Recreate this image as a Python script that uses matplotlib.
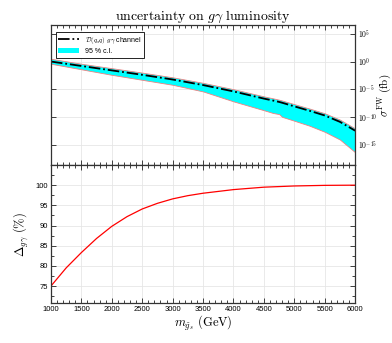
import numpy as np
import matplotlib
matplotlib.use("Agg")
import matplotlib.pyplot as plt
from matplotlib.ticker import FixedLocator, MultipleLocator, FuncFormatter
from matplotlib.patches import Patch
from matplotlib.lines import Line2D

plt.rcParams['font.family'] = ['Liberation Sans', 'DejaVu Sans']
plt.rcParams['mathtext.fontset'] = 'cm'

# top panel: log10 of sigma (fb)
mass_top = [1000, 1500, 2000, 2500, 3000, 3500, 4000, 4500, 4650, 4750, 4800, 5000, 5250, 5500, 5750, 6000]
central_log = [0.0, -0.8, -1.6, -2.4, -3.25, -4.25, -5.4, -6.7, -7.05, -7.3, -7.45, -8.1, -8.9, -9.75, -10.9, -12.5]
upper_log = [0.5, -0.4, -1.2, -2.0, -2.85, -3.85, -5.0, -6.3, -6.65, -6.9, -7.05, -7.7, -8.5, -9.35, -10.5, -12.1]
lower_log = [-0.4, -1.4, -2.4, -3.3, -4.2, -5.4, -7.2, -8.8, -9.3, -9.5, -10.0, -10.7, -11.6, -12.7, -14.1, -16.4]

# bottom panel: Delta_{g gamma} in %
mass_bot = [1000, 1250, 1500, 1750, 2000, 2250, 2500, 2750, 3000, 3250, 3500, 4000, 4500, 5000, 5500, 6000]
delta = [75.0, 79.5, 83.3, 86.8, 89.8, 92.2, 94.1, 95.5, 96.6, 97.4, 98.0, 98.9, 99.5, 99.8, 99.95, 100.0]

yticks_top = [1e5, 1e0, 1e-5, 1e-10, 1e-15]

fig = plt.figure(figsize=(3.92, 3.43), dpi=100)
ax1 = fig.add_axes([0.130, 0.519, 0.776, 0.408])
ax2 = fig.add_axes([0.130, 0.1166, 0.776, 0.4024])

m = np.array(mass_top)
ax1.fill_between(m, 10.0**np.array(lower_log), 10.0**np.array(upper_log),
                 facecolor='#00ffff', edgecolor='#f08080', linewidth=0.6)
ax1.plot(m, 10.0**np.array(central_log), color='black', linestyle='-.', linewidth=1.3)
ax1.set_yscale('log')
ax1.set_ylim(10**-18.7, 10**6.6)
ax1.set_xlim(1000, 6000)
ax1.yaxis.set_major_locator(FixedLocator(yticks_top))
ax1.yaxis.set_minor_locator(FixedLocator([]))
ax1.yaxis.set_major_formatter(FuncFormatter(
    lambda v, p: r"$\mathsf{10}^{\mathsf{%d}}$" % int(round(np.log10(v)))))
ax1.yaxis.tick_right()
ax1.yaxis.set_label_position('right')
ax1.tick_params(axis='x', labelbottom=False)
ax1.set_ylabel(r"$\sigma^{\mathrm{FW}}\ (\mathrm{fb})$", fontsize=8)
ax1.yaxis.set_label_coords(1.068, 0.5)
ax1.set_title(r"$\mathrm{uncertainty\ on\ }g\gamma\mathrm{\ luminosity}$", fontsize=10, pad=4)

handles = [Line2D([], [], color='black', linestyle='-.', linewidth=1.3),
           Patch(facecolor='#00ffff', edgecolor='none')]
leg = ax1.legend(handles, [r"$\mathcal{D}(q_s q)\ g\gamma$ channel", "95 % c.l."],
                 loc='upper left', bbox_to_anchor=(0.015, 0.95), fontsize=5,
                 fancybox=False, edgecolor='black', framealpha=1,
                 handlelength=3.0, borderpad=0.4, labelspacing=0.3, borderaxespad=0)
leg.get_frame().set_linewidth(0.6)

ax2.plot(mass_bot, delta, color='red', linewidth=0.9)
ax2.set_xlim(1000, 6000)
ax2.set_ylim(70.8, 105)
ax2.yaxis.set_minor_locator(MultipleLocator(2.5))
ax2.set_yticks([75, 80, 85, 90, 95, 100])
ax2.set_xlabel(r"$m_{\tilde{g}_s}\ (\mathrm{GeV})$", fontsize=9, labelpad=1)
ax2.set_ylabel(r"$\Delta_{g\gamma}\ (\%)$", fontsize=9, labelpad=4)

for ax in (ax1, ax2):
    ax.xaxis.set_major_locator(MultipleLocator(500))
    ax.xaxis.set_minor_locator(MultipleLocator(100))
    ax.tick_params(which='both', direction='in', top=True, right=True, left=True,
                   labelsize=5.5, width=0.6, colors='#222222', labelcolor='black', pad=2)
    ax.tick_params(which='major', length=3.5)
    ax.tick_params(which='minor', length=2)
    ax.grid(True, color='#e6e6e6', linewidth=0.6)
    ax.set_axisbelow(True)
    for s in ax.spines.values():
        s.set_linewidth(0.9)
        s.set_color('#333333')

ax1.tick_params(axis='y', labelleft=False, labelright=True)

fig.savefig("out.png", dpi=100)
